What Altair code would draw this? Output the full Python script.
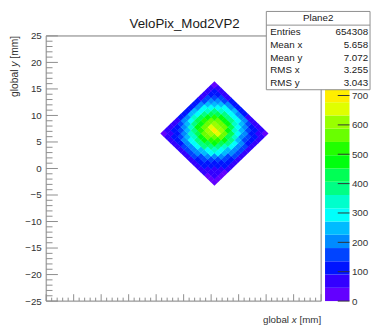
import altair as alt
import pandas as pd

# ---------------- data ----------------
TITLE = "VeloPix_Mod2VP2"
X_TITLE = ["global", "x", "[mm]"]
Y_TITLE = ["global", "y", "[mm]"]
STATS_HEADER = "Plane2"
STATS_NAMES = ["Entries", "Mean x", "Mean y", "RMS x", "RMS y"]
STATS_VALUES = ["654308", "5.658", "7.072", "3.255", "3.043"]
AXIS_TICKS = [-25, -20, -15, -10, -5, 0, 5, 10, 15, 20, 25]
Z_TICKS = [0, 100, 200, 300, 400, 500, 600, 700]
Z_MAX = 903.0
N_LEVELS = 20

# sensor (rotated square) geometry in global mm
SENSOR_CENTER_X = 5.6
SENSOR_CENTER_Y = 6.6
SENSOR_HALF_DIAGONAL = 9.8

# hits per cell on the sensor's own grid (row i, column j)
HITS = [
    [36, 35, 43, 45, 53, 55, 66, 68, 74, 70, 71, 62, 60, 51, 47, 40],
    [38, 61, 66, 83, 91, 113, 122, 140, 146, 139, 140, 121, 113, 92, 82, 47],
    [40, 70, 80, 104, 121, 154, 169, 195, 198, 206, 186, 174, 143, 125, 97, 58],
    [47, 78, 105, 128, 169, 198, 242, 259, 283, 271, 264, 225, 198, 153, 126, 66],
    [52, 99, 123, 171, 211, 272, 309, 356, 362, 371, 333, 304, 243, 201, 148, 82],
    [60, 110, 157, 202, 274, 329, 403, 436, 471, 449, 428, 361, 310, 233, 184, 90],
    [65, 132, 175, 248, 313, 406, 465, 534, 542, 548, 490, 438, 346, 279, 199, 106],
    [73, 140, 204, 268, 366, 443, 540, 581, 662, 594, 558, 468, 393, 291, 223, 108],
    [75, 155, 208, 296, 376, 484, 552, 631, 688, 619, 580, 486, 405, 299, 228, 114],
    [78, 149, 217, 286, 388, 468, 563, 605, 676, 622, 552, 484, 380, 300, 212, 107],
    [72, 150, 199, 280, 352, 450, 511, 574, 579, 571, 506, 443, 347, 273, 195, 101],
    [70, 131, 188, 242, 322, 384, 458, 489, 512, 483, 446, 371, 308, 229, 176, 86],
    [63, 121, 155, 213, 262, 328, 367, 410, 408, 402, 354, 310, 244, 195, 142, 77],
    [54, 103, 129, 173, 209, 259, 287, 318, 315, 310, 273, 240, 190, 155, 114, 64],
    [49, 83, 110, 131, 166, 190, 220, 230, 238, 223, 208, 174, 149, 116, 96, 52],
    [44, 49, 62, 71, 88, 97, 113, 115, 121, 111, 106, 89, 79, 62, 54, 44],
]

# ROOT "pretty" palette, 20 contour levels (style)
PALETTE = ["#6300ff", "#3300ff", "#0014ff", "#0044ff", "#008bff", "#00bbff",
           "#00fffc", "#00ffcc", "#00ff85", "#00ff55", "#00ff0e", "#22ff00",
           "#69ff00", "#99ff00", "#e0ff00", "#ffee00", "#ffa700", "#ff7700",
           "#ff3000", "#ff0000"]

FONT = "Liberation Sans"
W, H = 281, 271

# ---------------- tables ----------------
n = len(HITS)
half = SENSOR_HALF_DIAGONAL / n
cell_rows = []
for i, row in enumerate(HITS):
    for j, z in enumerate(row):
        cell_rows.append({
            "x": SENSOR_CENTER_X + (j - i) * half,
            "y": SENSOR_CENTER_Y + (j + i - (n - 1)) * half,
            "z": z,
        })
cells = pd.DataFrame(cell_rows)

step = Z_MAX / N_LEVELS
thresholds = [step * k for k in range(1, N_LEVELS)]
bands = pd.DataFrame({
    "lo": [step * k for k in range(N_LEVELS)],
    "hi": [step * (k + 1) for k in range(N_LEVELS)],
    "z": [step * (k + 0.5) for k in range(N_LEVELS)],
})

color_scale = alt.Scale(type="threshold", domain=thresholds, range=PALETTE)
xs = alt.Scale(domain=[-25, 25], nice=False, zero=False)
ys = alt.Scale(domain=[-25, 25], nice=False, zero=False)
zs = alt.Scale(domain=[0, Z_MAX], nice=False, zero=True)

x_axis = alt.Axis(values=AXIS_TICKS, ticks=False, domain=False, grid=False,
                  labelFlush=False, labelOverlap=False, labelPadding=4, title=None)
y_axis = alt.Axis(values=AXIS_TICKS, ticks=False, domain=False, grid=False,
                  labelFlush=False, labelOverlap=False, labelPadding=5, title=None)

heat = alt.Chart(cells).mark_point(
    shape="diamond", filled=True, size=52, opacity=1, strokeWidth=0
).encode(
    x=alt.X("x:Q", scale=xs, axis=x_axis),
    y=alt.Y("y:Q", scale=ys, axis=y_axis),
    color=alt.Color("z:Q", scale=color_scale, legend=None),
)

one = pd.DataFrame({"a": [0]})
frame = alt.Chart(one).mark_rect(fillOpacity=0, stroke="#8c8c8c", strokeWidth=1).encode(
    x=alt.value(0), x2=alt.value(W), y=alt.value(0), y2=alt.value(H)
)

major = pd.DataFrame({"v": AXIS_TICKS})
minor = pd.DataFrame({"v": [v for v in range(-25, 26) if v % 5 != 0]})
tick_color = "#8c8c8c"
yt_major = alt.Chart(major).mark_rule(color=tick_color, strokeWidth=1).encode(
    y=alt.Y("v:Q", scale=ys, axis=None), x=alt.value(0), x2=alt.value(12))
yt_minor = alt.Chart(minor).mark_rule(color=tick_color, strokeWidth=1).encode(
    y=alt.Y("v:Q", scale=ys, axis=None), x=alt.value(0), x2=alt.value(6.5))
xt_major = alt.Chart(major).mark_rule(color=tick_color, strokeWidth=1).encode(
    x=alt.X("v:Q", scale=xs, axis=None), y=alt.value(H), y2=alt.value(H - 7))
xt_minor = alt.Chart(minor).mark_rule(color=tick_color, strokeWidth=1).encode(
    x=alt.X("v:Q", scale=xs, axis=None), y=alt.value(H), y2=alt.value(H - 3.5))

z_axis = alt.Axis(orient="right", offset=29, values=Z_TICKS, ticks=False, domain=False,
                  grid=False, labelPadding=2, title=None, labelOverlap=False,
                  labelFlush=False)
cbar = alt.Chart(bands).mark_rect().encode(
    x=alt.value(285), x2=alt.value(310),
    y=alt.Y("lo:Q", scale=zs, axis=z_axis), y2="hi:Q",
    color=alt.Color("z:Q", scale=color_scale, legend=None),
)
cbar_ticks = alt.Chart(pd.DataFrame({"v": Z_TICKS})).mark_rule(color="#333", strokeWidth=1).encode(
    y=alt.Y("v:Q", scale=zs, axis=None), x=alt.value(298), x2=alt.value(310))

# stats box
box = alt.Chart(one).mark_rect(fill="white", stroke="#8c8c8c", strokeWidth=1).encode(
    x=alt.value(225), x2=alt.value(331), y=alt.value(-25), y2=alt.value(55))
box_line = alt.Chart(one).mark_rule(color="#8c8c8c", strokeWidth=1).encode(
    x=alt.value(225), x2=alt.value(331), y=alt.value(-11))
header = alt.Chart(pd.DataFrame({"t": [STATS_HEADER]})).mark_text(
    align="center", baseline="middle", fontSize=10, color="#1a1a1a", font=FONT
).encode(x=alt.value(278), y=alt.value(-18), text="t:N")

stats = pd.DataFrame({"name": STATS_NAMES, "val": STATS_VALUES,
                      "py": [-4 + 13.1 * k for k in range(len(STATS_NAMES))]})
stat_names = alt.Chart(stats).mark_text(
    align="left", baseline="middle", fontSize=10, color="#1a1a1a", font=FONT
).encode(x=alt.value(229), y=alt.Y("py:Q", scale=None), text="name:N")
stat_vals = alt.Chart(stats).mark_text(
    align="right", baseline="middle", fontSize=10, color="#1a1a1a", font=FONT
).encode(x=alt.value(329), y=alt.Y("py:Q", scale=None), text="val:N")

title = alt.Chart(pd.DataFrame({"t": [TITLE]})).mark_text(
    align="center", baseline="alphabetic", fontSize=13.6, color="#1a1a1a", font=FONT
).encode(x=alt.value(141.5), y=alt.value(-8), text="t:N")

# axis titles (italic variable letter)
def piece(txt, x, y, align, angle=0, italic=False, size=10):
    kw = dict(align=align, baseline="alphabetic" if angle == 0 else "middle",
              fontSize=size, color="#333", font=FONT)
    if angle:
        kw["angle"] = angle
    if italic:
        kw["fontStyle"] = "italic"
    return alt.Chart(pd.DataFrame({"t": [txt]})).mark_text(**kw).encode(
        x=alt.value(x), y=alt.value(y), text="t:N")

xt1 = piece(X_TITLE[2], W, 293.5, "right")
xt2 = piece(X_TITLE[1], W - 25, 293.5, "right", italic=True)
xt3 = piece(X_TITLE[0], W - 32.8, 293.5, "right")
YX = -32
yt1 = piece(Y_TITLE[2], YX, 0, "right", angle=270, size=10.5)
yt2 = piece(Y_TITLE[1], YX, 26.2, "right", angle=270, italic=True, size=10.5)
yt3 = piece(Y_TITLE[0], YX, 34.4, "right", angle=270, size=10.5)

chart = alt.layer(
    heat, frame, yt_major, yt_minor, xt_major, xt_minor,
    cbar, cbar_ticks, box, box_line, header, stat_names, stat_vals,
    title, xt1, xt2, xt3, yt1, yt2, yt3,
).resolve_scale(y="independent").properties(
    width=W, height=H,
    padding={"left": 39, "top": 25, "right": 52, "bottom": 24},
    autosize=alt.AutoSizeParams(type="none"),
).configure_view(stroke=None).configure(font=FONT).configure_axis(
    labelFont=FONT, labelFontSize=10, labelColor="#333"
)

chart.save("out.html", embed_options={"renderer": "svg", "actions": False})
